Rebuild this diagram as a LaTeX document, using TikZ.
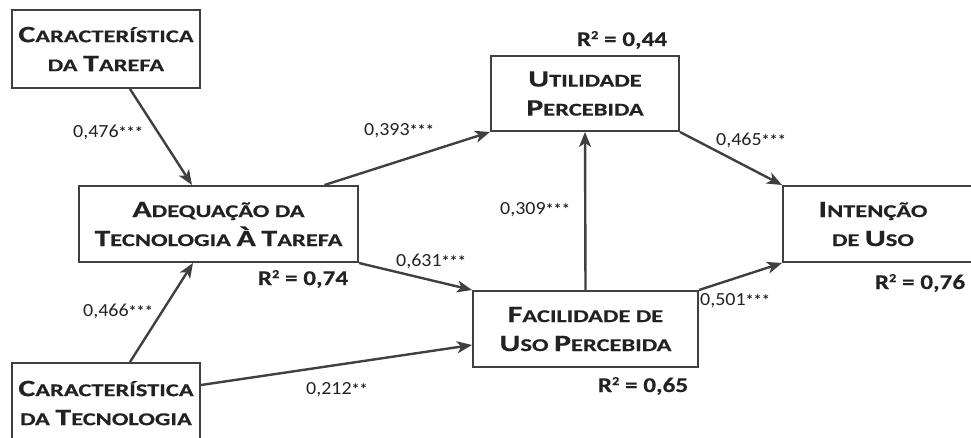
\documentclass[tikz,border=0pt]{standalone}
\usepackage{fontspec}
\setmainfont{Carlito}
\newfontfamily\boxfont[FakeStretch=1.36, BoldFeatures={FakeBold=0.4}]{Carlito}
\newfontfamily\rfont[FakeStretch=1.2, BoldFeatures={FakeBold=0.3}]{Carlito}
\newfontfamily\lfont[FakeStretch=1.08]{Carlito}
\usetikzlibrary{arrows.meta}
\definecolor{ln}{HTML}{404040}
\definecolor{tx}{HTML}{222222}
\newcommand\bg[1]{{\fontsize{23.5}{24}\selectfont #1}}
\newcommand\stars[1]{{\fontsize{15}{15}\selectfont\bfseries #1}}
\newcommand\sqr{\raisebox{7pt}{\fontsize{12}{12}\selectfont 2}}
\tikzset{
 box/.style={draw=ln, line width=2pt, rectangle, text=tx, align=center,
   font=\boxfont\bfseries\fontsize{18}{29}\selectfont, inner sep=0pt},
 arr/.style={draw=ln, line width=2.4pt, -{Stealth[length=15pt,width=12pt,inset=4pt]}},
 lab/.style={text=tx, font=\lfont\fontsize{18.5}{22}\selectfont, inner sep=0pt},
 rsq/.style={text=tx, font=\rfont\bfseries\fontsize{21}{24}\selectfont, inner sep=0pt},
}
\begin{document}
\begin{tikzpicture}[x=1pt,y=-1pt]
\useasboundingbox (0,0) rectangle (971,437);
\clip (0,0) rectangle (971,437);
% boxes
\node[box, minimum width=188pt, minimum height=78pt] (ct) at (106,49) {\bg{C}ARACTERÍSTICA\\DA \bg{T}AREFA};
\node[box, minimum width=279pt, minimum height=76pt] (att) at (218.5,224) {\bg{A}DEQUAÇÃO DA\\\bg{T}ECNOLOGIA \bg{À} \bg{T}AREFA};
\node[box, minimum width=188pt, minimum height=80pt] (ctec) at (106,403) {\bg{C}ARACTERÍSTICA\\DA \bg{T}ECNOLOGIA};
\node[box, minimum width=188pt, minimum height=75pt] (up) at (585,93.5) {\bg{U}TILIDADE\\\bg{P}ERCEBIDA};
\node[box, minimum width=225pt, minimum height=76pt] (fup) at (585.5,329) {\bg{F}ACILIDADE DE\\\bg{U}SO \bg{P}ERCEBIDA};
\node[box, minimum width=200pt, minimum height=76pt] (id) at (883,224) {};
\node[box, draw=none] (idt) at (873,224) {\bg{I}NTENÇÃO\\DE \bg{U}SO};
% connectors
\draw[arr] ([xshift=24pt]ct.south) -- ([xshift=-26.5pt]att.north);
\draw[arr] ([xshift=24pt]ctec.north) -- ([xshift=-25.5pt]att.south);
\draw[arr] ([xshift=106pt]att.north) -- (up.south west);
\draw[arr] (att.south east) -- (fup.north west);
\draw[arr] ([yshift=18pt]ctec.east) -- ([yshift=-16pt]fup.west);
\draw[arr] (fup.north) -- (up.south);
\draw[arr] (up.south east) -- (id.north west);
\draw[arr] (fup.north east) -- (id.south west);
% path labels
\node[lab] (l1) at (108,132) {0,476\stars{***}};
\node[lab] (l2) at (118,311) {0,466\stars{***}};
\node[lab] (l3) at (399,131) {0,393\stars{***}};
\node[lab] (l4) at (431,261) {0,631\stars{***}};
\node[lab] (l5) at (337,390) {0,212\stars{**}};
\node[lab] (l6) at (535,210) {0,309\stars{***}};
\node[lab] (l7) at (751,140) {0,465\stars{***}};
\node[lab] (l8) at (735,301) {0,501\stars{***}};
% R2 labels
\node[rsq] (r1) at (622,40) {R\sqr\ = 0,44};
\node[rsq] (r2) at (303,279) {R\sqr\ = 0,74};
\node[rsq] (r3) at (643,386) {R\sqr\ = 0,65};
\node[rsq] (r4) at (920,283) {R\sqr\ = 0,76};
\end{tikzpicture}
\end{document}
